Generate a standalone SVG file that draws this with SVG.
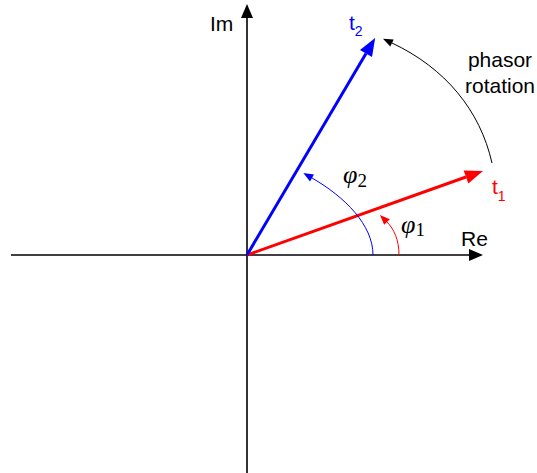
<svg xmlns="http://www.w3.org/2000/svg" width="537" height="473" viewBox="0 0 537 473">
<style>
.lbl{font-family:"Liberation Sans",Arial,sans-serif;font-size:21px}
.big{font-size:21px}
.sub{font-size:14px}
.phi{font-family:"Liberation Serif","Times New Roman",serif;font-style:italic;font-size:26px}
.phisub{font-family:"Liberation Serif","Times New Roman",serif;font-style:normal;font-size:19px}
.axis{stroke:#000;stroke-width:1.6;fill:none}
.vec{stroke-width:3;fill:none}
.arc{stroke-width:1;fill:none}
</style>
<defs>
<marker id="axHead" markerUnits="userSpaceOnUse" markerWidth="16" markerHeight="14" refX="0" refY="7" orient="auto" overflow="visible">
<path d="M0,1 L14,7 L0,13 z" fill="#000"/>
</marker>
<marker id="redHead" markerUnits="userSpaceOnUse" markerWidth="20" markerHeight="16" refX="0" refY="8" orient="auto" overflow="visible">
<path d="M0,1 L18,8 L0,15 z" fill="#ff0000"/>
</marker>
<marker id="blueHead" markerUnits="userSpaceOnUse" markerWidth="20" markerHeight="16" refX="0" refY="8" orient="auto" overflow="visible">
<path d="M0,1 L18,8 L0,15 z" fill="#0000ff"/>
</marker>
<marker id="blkSmall" markerUnits="userSpaceOnUse" markerWidth="11" markerHeight="10" refX="0" refY="5" orient="auto" overflow="visible">
<path d="M0,1 L10,5 L0,9 z" fill="#000"/>
</marker>
<marker id="blueSmall" markerUnits="userSpaceOnUse" markerWidth="11" markerHeight="10" refX="0" refY="5" orient="auto" overflow="visible">
<path d="M0,1 L10,5 L0,9 z" fill="#0000ff"/>
</marker>
<marker id="redSmall" markerUnits="userSpaceOnUse" markerWidth="11" markerHeight="10" refX="0" refY="5" orient="auto" overflow="visible">
<path d="M0,1 L10,5 L0,9 z" fill="#ff0000"/>
</marker>
</defs>
<rect width="537" height="473" fill="#fff"/>
<g id="connectors">
<line id="re-axis" class="axis" x1="11" y1="255" x2="469" y2="255" marker-end="url(#axHead)"/>
<line id="im-axis" class="axis" x1="247" y1="473" x2="247" y2="18" marker-end="url(#axHead)"/>
<line id="phasor-t1" class="vec" stroke="#ff0000" x1="247" y1="255" x2="466" y2="177" marker-end="url(#redHead)"/>
<line id="phasor-t2" class="vec" stroke="#0000ff" x1="247" y1="255" x2="366" y2="53.5" marker-end="url(#blueHead)"/>
<path id="rotation-arc" class="arc" stroke="#000" d="M492,163 C480,110 445,68 392,43" marker-end="url(#blkSmall)"/>
<path id="phi2-arc" class="arc" stroke="#0000ff" d="M373,255 C373,225 345,197 312,178" marker-end="url(#blueSmall)"/>
<path id="phi1-arc" class="arc" stroke="#ff0000" d="M399,255 C399,240 394,229 387,222" marker-end="url(#redSmall)"/>
</g>
<g id="label-im"><text class="lbl" x="210" y="31">Im</text></g>
<g id="label-re"><text class="lbl" x="461" y="246">Re</text></g>
<g id="label-t2"><text class="lbl" x="349" y="30" fill="#0000ff">t<tspan class="sub" dy="6">2</tspan></text></g>
<g id="label-t1"><text class="lbl" x="492" y="194" fill="#ff0000">t<tspan class="sub" dy="7">1</tspan></text></g>
<g id="label-rotation"><text class="lbl big" x="500" y="67" text-anchor="middle">phasor</text><text class="lbl big" x="500" y="93" text-anchor="middle">rotation</text></g>
<g id="label-phi2"><text class="phi" x="343" y="183">φ<tspan class="phisub" dy="4">2</tspan></text></g>
<g id="label-phi1"><text class="phi" x="401" y="233">φ<tspan class="phisub" dy="3">1</tspan></text></g>
</svg>
